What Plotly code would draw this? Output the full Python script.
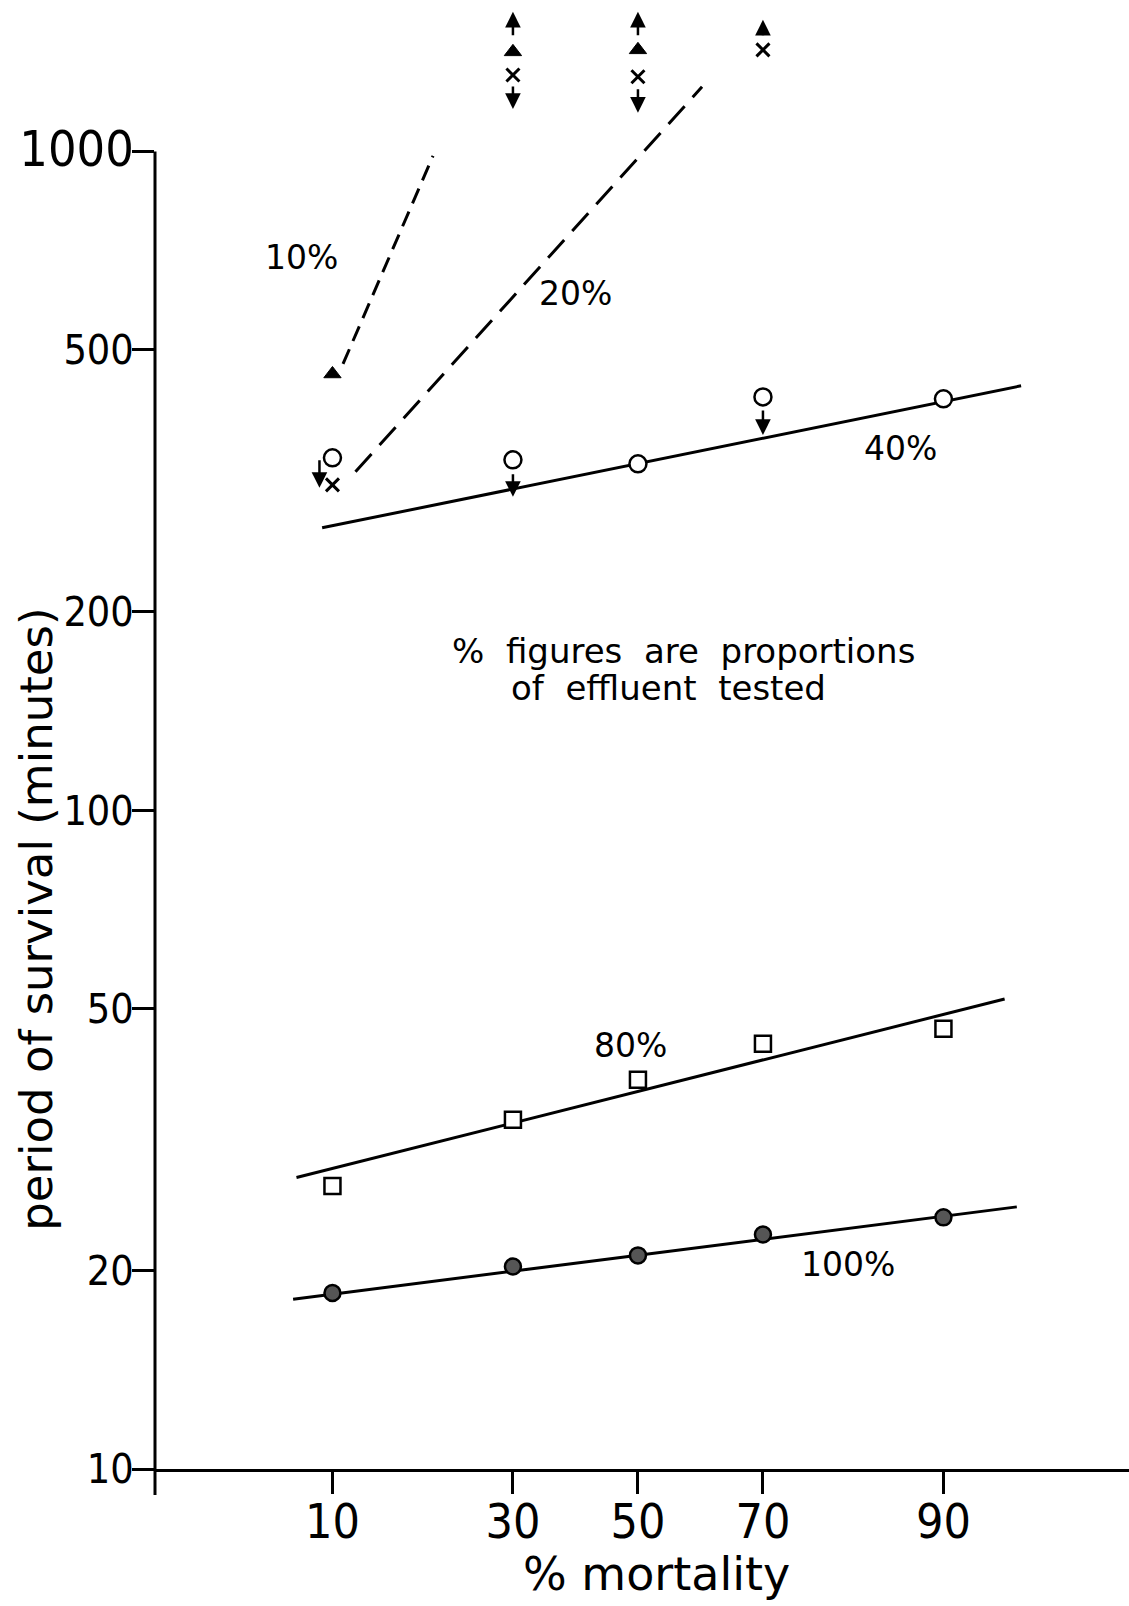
import math
from statistics import NormalDist
import plotly.graph_objects as go

# ---------------- data ----------------
mortality_ticks = [10, 30, 50, 70, 90]
tick_text_x = ["10", "30", "50", "70", "90"]
y_tickvals = [10, 20, 50, 100, 200, 500, 1000]
y_ticktext = ["10", "20", "50", "100", "200", "500",
              "<span style='font-size:50px'>1000</span>"]

mort_100 = [10, 30, 50, 70, 90]
surv_100 = [18.5, 20.3, 21.1, 22.7, 24.1]
mort_80 = [10, 30, 50, 70, 90]
surv_80 = [26.9, 33.9, 39.0, 44.2, 46.6]
mort_40 = [10, 30, 50, 70, 90]
surv_40 = [342.8, 340.4, 335.7, 424.2, 421.3]
mort_20 = [10, 30, 50, 70]
surv_20 = [311.9, 1307, 1299, 1427]
mort_10 = [10, 30, 50]
surv_10 = [459.6, 1417, 1427]

fit_100_m = [7.4, 94.4]
fit_100_v = [18.1, 25.0]
fit_80_m = [7.6, 93.8]
fit_80_v = [27.7, 51.7]
fit_40_m = [9.26, 94.6]
fit_40_v = [268.4, 441.0]
fit_20_m = [11.8, 60.6]
fit_20_v = [326.4, 1254]
fit_10_m = [10.8, 19.5]
fit_10_v = [476, 985]

# arrows: (mortality, value of marker it belongs to, direction)
arrows = [
    (10, 342.8, "down"),
    (30, 340.4, "down"),
    (70, 424.2, "down"),
    (30, 1417, "up"),
    (30, 1307, "down"),
    (50, 1427, "up"),
    (50, 1299, "down"),
    (70, 1427, "up"),
]
# pixel styling for the arrows (xshift, yshift, length)
arrow_style = [(-13, -30, 29), (0, -37, 24), (0, -38, 26), (0, 40, 25),
               (0, -34, 24), (0, 38, 25), (0, -36, 25), (0, 30, 17)]

nd = NormalDist()
def probit(p):
    return nd.inv_cdf(p / 100.0)

def px(ms):
    return [probit(m) for m in ms]

FONT = "DejaVu Sans"
TICKFONT = "DejaVu Sans Condensed, DejaVu Sans"
BLACK = "black"

fig = go.Figure()

# fitted lines
for m, v, dash in [(fit_100_m, fit_100_v, "solid"), (fit_80_m, fit_80_v, "solid"),
                   (fit_40_m, fit_40_v, "solid"), (fit_20_m, fit_20_v, "24px,12px"),
                   (fit_10_m, fit_10_v, "16px,9px")]:
    fig.add_trace(go.Scatter(x=px(m), y=v, mode="lines",
                             line=dict(color=BLACK, width=3, dash=dash),
                             hoverinfo="skip"))

# markers
fig.add_trace(go.Scatter(x=px(mort_100), y=surv_100, mode="markers",
                         marker=dict(symbol="circle", size=16, color="#555555",
                                     line=dict(color=BLACK, width=2.5)),
                         cliponaxis=False))
fig.add_trace(go.Scatter(x=px(mort_80), y=surv_80, mode="markers",
                         marker=dict(symbol="square", size=16, color="white",
                                     line=dict(color=BLACK, width=2.5)),
                         cliponaxis=False))
fig.add_trace(go.Scatter(x=px(mort_40), y=surv_40, mode="markers",
                         marker=dict(symbol="circle", size=17, color="white",
                                     line=dict(color=BLACK, width=2.5)),
                         cliponaxis=False))
fig.add_trace(go.Scatter(x=px(mort_20), y=surv_20, mode="markers",
                         marker=dict(symbol="x-thin-open", size=13, color=BLACK,
                                     line=dict(color=BLACK, width=3)),
                         cliponaxis=False))
fig.add_trace(go.Scatter(x=px(mort_10), y=surv_10, mode="markers",
                         marker=dict(symbol="triangle-up", size=15, color=BLACK,
                                     line=dict(color=BLACK, width=1)),
                         cliponaxis=False))

annotations = []
for (m, v, d), (xs, ys, L) in zip(arrows, arrow_style):
    annotations.append(dict(
        x=probit(m), y=math.log10(v), xref="x", yref="y", text="",
        showarrow=True, arrowhead=2, arrowsize=1.25, arrowwidth=2.5,
        arrowcolor=BLACK, ax=0, ay=(-L if d == "down" else L),
        xshift=xs, yshift=ys, standoff=0, startstandoff=0))

labels = [
    ("10%", 0.1509, 0.8244),
    ("20%", 0.4322, 0.7999),
    ("40%", 0.7649, 0.6950),
    ("80%", 0.4877, 0.2880),
    ("100%", 0.7115, 0.1389),
]
for t, x, y in labels:
    annotations.append(dict(x=x, y=y, xref="paper", yref="paper", text=t,
                            showarrow=False, xanchor="center", yanchor="middle",
                            font=dict(family=FONT, size=33, color=BLACK)))

annotations.append(dict(x=0.5431, y=0.5568, xref="paper", yref="paper",
                        text="%  figures  are  proportions", showarrow=False,
                        xanchor="center", yanchor="middle",
                        font=dict(family=FONT, size=34, color=BLACK)))
annotations.append(dict(x=0.5267, y=0.5317, xref="paper", yref="paper",
                        text="of  effluent  tested", showarrow=False,
                        xanchor="center", yanchor="middle",
                        font=dict(family=FONT, size=34, color=BLACK)))
annotations.append(dict(x=0.5154, y=-0.0715, xref="paper", yref="paper",
                        text="% mortality", showarrow=False,
                        xanchor="center", yanchor="middle",
                        font=dict(family=FONT, size=46, color=BLACK)))
annotations.append(dict(x=-0.1225, y=0.3744, xref="paper", yref="paper",
                        text="period of survival (minutes)", showarrow=False,
                        textangle=-90, xanchor="center", yanchor="middle",
                        font=dict(family=FONT, size=45, color=BLACK)))

shapes = [
    dict(type="line", xref="paper", yref="y", x0=0, x1=0, y0=10, y1=1000,
         line=dict(color=BLACK, width=3)),
    dict(type="line", xref="paper", yref="paper", x0=0, x1=0, y0=0, y1=-0.0177,
         line=dict(color=BLACK, width=3)),
]

fig.update_layout(
    width=1129, height=1606,
    margin=dict(l=155, r=0, t=0, b=137),
    paper_bgcolor="white", plot_bgcolor="white",
    showlegend=False,
    annotations=annotations,
    shapes=shapes,
    xaxis=dict(range=[-2.026, 2.060], tickvals=px(mortality_ticks),
               ticktext=tick_text_x, ticks="outside", ticklen=22, tickwidth=3,
               tickcolor=BLACK, showline=True, linewidth=3, linecolor=BLACK,
               showgrid=False, zeroline=False, ticklabelstandoff=-14,
               tickfont=dict(family=TICKFONT, size=48, color=BLACK)),
    yaxis=dict(type="log", range=[1, 3.2301], tickvals=y_tickvals,
               ticktext=y_ticktext, ticks="outside", ticklen=22, tickwidth=3,
               tickcolor=BLACK, showline=False, showgrid=False, zeroline=False,
               ticklabelstandoff=-10,
               tickfont=dict(family=TICKFONT, size=41, color=BLACK)),
)

fig.write_html("out.html")
